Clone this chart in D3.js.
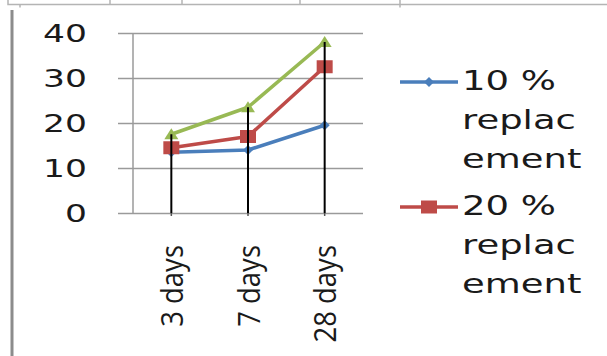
<!DOCTYPE html>
<html>
<head>
<meta charset="utf-8">
<script src="https://cdn.jsdelivr.net/npm/d3@7"></script>
<style>
  html, body { margin: 0; padding: 0; background: #fff; }
  svg { display: block; }
</style>
</head>
<body>
<svg id="chart" width="607" height="356"></svg>
<script>
// Compressive strength over curing age, by replacement level
const categories = ["3 days", "7 days", "28 days"];
const series10 = [13.5, 14, 19.5];
const series20 = [14.5, 17, 32.5];
const series30 = [17.5, 23.5, 38];
const seriesNames = ["10 % replacement", "20 % replacement", "30 % replacement"];
const yTicks = [0, 10, 20, 30, 40];
const legendLines = [["10 %", "replac", "ement"], ["20 %", "replac", "ement"]];

const colors = ["#4a7ebb", "#be4b48", "#98b954"];
const svg = d3.select("#chart");

// page frame fragments
const frame = svg.append("g").attr("stroke", "#b4b4b4").attr("stroke-width", 1.5).attr("fill", "none");
frame.append("path").attr("d", "M8,0V4.5H607");
[110, 182, 300, 400].forEach(px => frame.append("line").attr("x1", px).attr("x2", px).attr("y1", 0).attr("y2", 4.5));
frame.append("line").attr("x1", 20).attr("x2", 20).attr("y1", 4.5).attr("y2", 7.5);
frame.append("line").attr("x1", 400).attr("x2", 400).attr("y1", 4.5).attr("y2", 7.5);
svg.append("line").attr("x1", 12).attr("x2", 12).attr("y1", 10).attr("y2", 356)
  .attr("stroke", "#8c8c8c").attr("stroke-width", 3);

// plot geometry
const plotL = 133, plotR = 363, plotT = 33, plotB = 213;
const x = d3.scaleBand().domain(categories).range([plotL, plotR]).padding(0);
const cx = c => x(c) + x.bandwidth() / 2;
const y = d3.scaleLinear().domain([0, 40]).range([plotB, plotT]);

// horizontal gridlines with outside tick marks
const grid = svg.append("g").attr("transform", `translate(${plotR},0)`)
  .call(d3.axisLeft(y).tickValues(yTicks).tickSizeInner(plotR - 118).tickSizeOuter(0).tickFormat(""));
grid.select(".domain").remove();
grid.selectAll(".tick line").attr("stroke", "#9a9a9a").attr("stroke-width", 1.5)
  .attr("x2", -(plotR - 118));

// value axis line
svg.append("line").attr("x1", plotL).attr("x2", plotL).attr("y1", plotT).attr("y2", plotB)
  .attr("stroke", "#9a9a9a").attr("stroke-width", 1.5);

// category axis ticks
const xAxis = svg.append("g").attr("transform", `translate(0,${plotB})`)
  .call(d3.axisBottom(x).tickSizeInner(3).tickSizeOuter(0).tickFormat(""));
xAxis.select(".domain").remove();
xAxis.selectAll(".tick line").attr("stroke", "#555").attr("stroke-width", 1.5);

// value labels
svg.append("g").selectAll("text").data(yTicks).join("text")
  .attr("transform", d => `translate(87,${y(d)}) scale(1.38,1)`)
  .attr("text-anchor", "end").attr("dy", "0.36em")
  .attr("font-family", "DejaVu Sans").attr("font-size", 25).attr("fill", "#1a1a1a")
  .text(d => d);

// category labels, rotated
svg.append("g").selectAll("text").data(categories).join("text")
  .attr("transform", d => `translate(${cx(d)},245) rotate(-90) scale(1,1.12)`)
  .attr("text-anchor", "end").attr("dy", "0.38em")
  .attr("font-family", "Open Sans").attr("font-size", 27.5).attr("fill", "#1a1a1a")
  .text(d => d);

// series lines and markers
const allSeries = [series10, series20, series30];
const line = d3.line().x((d, i) => cx(categories[i])).y(d => y(d));
const markerPath = [
  (px, py) => `M${px},${py - 5}L${px + 5},${py}L${px},${py + 5}L${px - 5},${py}Z`,
  (px, py) => `M${px - 8},${py - 6.5}h16v13h-16Z`,
  (px, py) => `M${px},${py - 6}L${px + 7},${py + 5}L${px - 7},${py + 5}Z`
];
allSeries.forEach((vals, s) => {
  const g = svg.append("g").attr("class", "series").attr("data-name", seriesNames[s]);
  g.append("path").datum(vals).attr("d", line).attr("fill", "none")
    .attr("stroke", colors[s]).attr("stroke-width", 3.5).attr("stroke-linejoin", "round");
  g.selectAll("path.m").data(vals).join("path").attr("class", "m")
    .attr("d", (d, i) => markerPath[s](cx(categories[i]), y(d)))
    .attr("fill", colors[s]);
});

// drop lines from the highest point to the axis
svg.append("g").selectAll("line").data(categories).join("line")
  .attr("x1", d => cx(d)).attr("x2", d => cx(d))
  .attr("y1", (d, i) => y(d3.max(allSeries, v => v[i])))
  .attr("y2", plotB)
  .attr("stroke", "#000").attr("stroke-width", 2);

// legend
const legend = svg.append("g");
legendLines.forEach((lines, k) => {
  const ly = 82 + k * 125;
  legend.append("line").attr("x1", 400).attr("x2", 458).attr("y1", ly).attr("y2", ly)
    .attr("stroke", colors[k]).attr("stroke-width", 3.5);
  legend.append("path").attr("d", markerPath[k](429, ly)).attr("fill", colors[k]);
  lines.forEach((t, j) => {
    legend.append("text")
      .attr("transform", `translate(462,${ly + 8 + j * 39}) scale(1.37,1)`)
      .attr("font-family", "DejaVu Sans").attr("font-size", 27).attr("fill", "#1a1a1a")
      .text(t);
  });
});
</script>
</body>
</html>
